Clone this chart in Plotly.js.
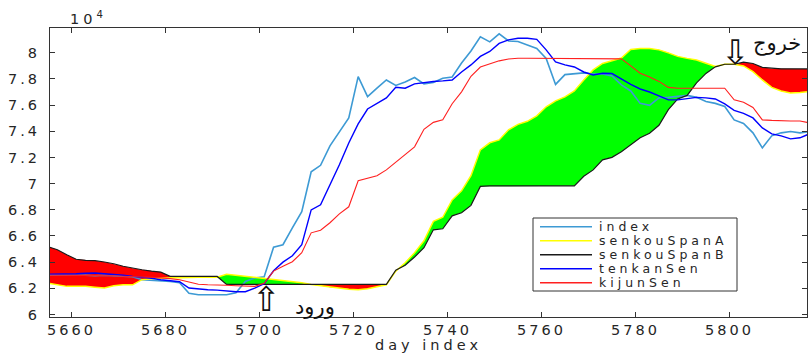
<!DOCTYPE html>
<html>
<head>
<meta charset="utf-8">
<script src="https://cdn.plot.ly/plotly-3.0.1.min.js"></script>
<style>
html,body{margin:0;padding:0;background:#fff;overflow:hidden;width:809px;height:353px;}
.xtick text,.ytick text{letter-spacing:3px;}
.g-xtitle text{letter-spacing:4px;}
.annotation-text{letter-spacing:4px;}
g.annotation[data-index="6"] text, g.annotation[data-index="8"] text{letter-spacing:0px;}
g.annotation[data-index="7"] text, g.annotation[data-index="9"] text{letter-spacing:6px;}
</style>
</head>
<body>
<div id="chart" style="width:809px;height:353px;"></div>
<script>
// ---------------- data ----------------
const days = [5655,5657,5659,5661,5663,5665,5667,5669,5671,5673,
  5675,5677,5679,5681,5683,5685,5687,5689,5691,5693,
  5695,5697,5699,5701,5703,5705,5707,5709,5711,5713,
  5715,5717,5719,5721,5723,5725,5727,5729,5731,5733,
  5735,5737,5739,5741,5743,5745,5747,5749,5751,5753,
  5755,5757,5759,5761,5763,5765,5767,5769,5771,5773,
  5775,5777,5779,5781,5783,5785,5787,5789,5791,5793,
  5795,5797,5799,5801,5803,5805,5807,5809,5811,5813,
  5815,5817];

const indexSeries = [63000,63000,63040,63040,63000,62960,63000,62960,62920,62890,
  62660,62620,62580,62530,62430,61630,61510,61510,61510,61510,
  61660,62530,62790,62880,65140,65330,66620,67850,70900,71400,
  72890,73920,75020,78180,76650,77290,77920,77500,77770,78110,
  77620,77730,78050,78150,79210,80140,81210,80830,81440,80900,
  80860,80600,80330,79570,77580,78330,78410,78460,78380,78380,
  78230,77540,77080,76130,75980,76550,76590,76660,76740,76590,
  76270,76130,75890,74870,74600,73880,72730,73650,73880,73980,
  73880,73980];

const senkouSpanA = [62400,62270,62150,62150,62150,62080,62020,62200,62270,62270,
  62660,62730,62790,62810,62810,62850,62850,62850,62850,63080,
  63000,62900,62830,62750,62680,62600,62530,62430,62290,62200,
  62080,62010,61930,61890,61970,62120,62270,63310,63950,64720,
  65630,67120,67430,68760,69450,70600,72580,73120,73340,74110,
  74530,74760,75180,75870,76320,76630,77080,77920,78690,79180,
  79410,79600,80250,80330,80330,80220,79990,79720,79570,79450,
  79200,78950,79120,79120,78990,78560,77920,77350,77080,76930,
  76970,77030];

const senkouSpanB = [65180,64950,64560,64220,64140,64110,64010,63880,63690,63530,
  63420,63310,63240,62910,62910,62910,62910,62910,62910,62300,
  62300,62300,62300,62300,62300,62300,62300,62300,62300,62300,
  62300,62300,62300,62300,62300,62300,62300,63380,63760,64390,
  65100,66470,66550,67540,67770,68340,69790,69830,69830,69830,
  69830,69830,69830,69830,69830,69830,69830,70560,71050,71820,
  72010,72430,73000,73500,73850,74460,75650,76470,76740,77700,
  78420,78920,79120,79120,79280,79180,78880,78800,78760,78760,
  78760,78760];

const tenkanSen = [63080,63080,63090,63110,63150,63170,63110,63080,63000,62910,
  62850,62770,62660,62580,62500,62020,61930,61890,61860,61780,
  61740,61740,62010,62350,63340,64000,64490,65330,67990,68380,
  69910,71440,73110,74560,75700,76100,76550,77360,77290,77620,
  77730,77800,77850,77920,78530,79070,79720,80100,80710,80980,
  81110,81110,81020,80220,79300,79070,78910,78530,78300,78430,
  78410,77990,77580,77230,77000,76700,76400,76400,76470,76590,
  76550,76470,76090,75600,75370,75020,74260,73800,73650,73420,
  73500,73800];

const kijunSen = [63000,63000,63000,63000,63000,63000,63000,62960,62920,62870,
  62870,62850,62810,62740,62660,62460,62310,62270,62270,62240,
  62200,62150,62150,62390,63320,63690,64030,64720,66240,66440,
  67010,67690,68230,70220,70410,70600,71050,71660,72230,72810,
  74150,74680,74870,76100,77010,78200,78910,79160,79380,79520,
  79580,79580,79580,79580,79580,79580,79580,79580,79580,79580,
  79580,79530,79000,78430,78140,77810,77350,77290,77290,77290,
  77290,77290,77290,76400,76210,75820,74870,74830,74790,74790,
  74790,74640];

const seriesNames = ['index','senkouSpanA','senkouSpanB','tenkanSen','kijunSen'];
const seriesColors = ['#3d9ad4','#ffff00','#1a1a1a','#0000ff','#ff2020'];
const seriesWidths = [1.6,1.5,1.2,1.4,1.1];

const xTickVals = [5660,5680,5700,5720,5740,5760,5780,5800];
const yTickVals = [60000,62000,64000,66000,68000,70000,72000,74000,76000,78000,80000];
const yTickText = ['6','6.2','6.4','6.6','6.8','7','7.2','7.4','7.6','7.8','8'];

const entryLabel = 'ورود', exitLabel = 'خروج';
const entryDay = 5701.6, entryArrowY = 61200, entryTextDay = 5711.8, entryTextY = 60600;
const exitDay = 5801.2, exitArrowY = 80050;

// ---------------- layout helpers ----------------
const W = 809, H = 353, M = {l:50, r:2, t:28, b:36};
const PW = W - M.l - M.r, PH = H - M.t - M.b;
const px2x = p => (p - M.l) / PW;
const px2y = p => (H - M.b - p) / PH;

// cloud polygons (green where A >= B, red where A < B)
function cloudPolys(xs, a, b) {
  const out = [];
  let cur = null, sign = 0;
  for (let i = 0; i < xs.length; i++) {
    const s = a[i] >= b[i] ? 1 : -1;
    if (cur === null) { cur = {x:[xs[i]], a:[a[i]], b:[b[i]]}; sign = s; continue; }
    if (s !== sign) {
      const d0 = a[i-1] - b[i-1], d1 = a[i] - b[i];
      const t = d0 / (d0 - d1);
      const xc = xs[i-1] + t * (xs[i] - xs[i-1]);
      const yc = a[i-1] + t * (a[i] - a[i-1]);
      cur.x.push(xc); cur.a.push(yc); cur.b.push(yc);
      out.push({sign, poly: cur});
      cur = {x:[xc], a:[yc], b:[yc]}; sign = s;
    }
    cur.x.push(xs[i]); cur.a.push(a[i]); cur.b.push(b[i]);
  }
  if (cur) out.push({sign, poly: cur});
  return out;
}

const traces = [];
cloudPolys(days, senkouSpanA, senkouSpanB).forEach(p => {
  const xs = p.poly.x.concat(p.poly.x.slice().reverse());
  const ys = p.poly.a.concat(p.poly.b.slice().reverse());
  traces.push({x: xs, y: ys, type:'scatter', mode:'lines', fill:'toself',
    fillcolor: p.sign > 0 ? '#00ff00' : '#ff0000', line:{width:0},
    hoverinfo:'skip', showlegend:false});
});

const seriesData = [indexSeries, senkouSpanA, senkouSpanB, tenkanSen, kijunSen];
seriesData.forEach((ys, i) => {
  traces.push({x: days, y: ys, type:'scatter', mode:'lines', name: seriesNames[i],
    line:{color: seriesColors[i], width: seriesWidths[i]}, showlegend:false});
});

// custom legend (drawn to match the compact original box)
const legBox = {x0:533, y0:218, x1:737, y1:291};
const legRow0 = 226.7, legRowStep = 14, legSample = [540, 592], legTextX = 598;
const shapes = [{type:'rect', xref:'paper', yref:'paper',
  x0: px2x(legBox.x0), x1: px2x(legBox.x1), y0: px2y(legBox.y1), y1: px2y(legBox.y0),
  fillcolor:'#ffffff', line:{color:'#333333', width:1}, layer:'above'}];
const annotations = [];
seriesNames.forEach((n, i) => {
  const ry = legRow0 + i * legRowStep;
  shapes.push({type:'line', xref:'paper', yref:'paper', x0: px2x(legSample[0]), x1: px2x(legSample[1]),
    y0: px2y(ry), y1: px2y(ry), line:{color: seriesColors[i], width: 1.4}, layer:'above'});
  annotations.push({xref:'paper', yref:'paper', x: px2x(legTextX), y: px2y(ry), xanchor:'left', yanchor:'middle',
    text: n, showarrow:false, font:{family:'DejaVu Sans', size:12.5, color:'#262626'}, borderpad:0});
});
// exponent label
annotations.push({xref:'paper', yref:'paper', x: px2x(69), y: 1, xanchor:'left', yanchor:'bottom',
  text:'10<sup>4</sup>', showarrow:false, font:{family:'DejaVu Sans', size:14.5, color:'#262626'}, borderpad:0});
// entry arrow + label
annotations.push({xref:'x', yref:'y', x: entryDay, y: entryArrowY, text:'\u21E7', showarrow:false,
  font:{family:'DejaVu Sans', size:34, color:'#111111'}, borderpad:0});
annotations.push({xref:'x', yref:'y', x: entryTextDay, y: entryTextY, text: entryLabel, showarrow:false,
  font:{family:'DejaVu Sans', size:21, color:'#111111'}, borderpad:0});
// exit arrow + label
annotations.push({xref:'x', yref:'y', x: exitDay, y: exitArrowY, text:'\u21E9', showarrow:false,
  font:{family:'DejaVu Sans', size:34, color:'#111111'}, borderpad:0});
annotations.push({xref:'paper', yref:'paper', x: px2x(752), y: px2y(43), xanchor:'left', yanchor:'middle',
  text: exitLabel, showarrow:false, font:{family:'DejaVu Sans', size:21, color:'#111111'}, borderpad:0});

const axisCommon = {showline:true, linecolor:'#333333', linewidth:1, mirror:'ticks', ticks:'inside',
  ticklen:5, tickcolor:'#333333', showgrid:false, zeroline:false,
  tickfont:{family:'DejaVu Sans', size:14.5, color:'#262626'}};

const layout = {
  width: W, height: H, margin: M, paper_bgcolor:'#ffffff', plot_bgcolor:'#ffffff',
  showlegend:false,
  xaxis: Object.assign({}, axisCommon, {range:[5655.43, 5816.5], tickmode:'array', tickvals: xTickVals,
    ticktext: xTickVals.map(String), ticklabelstandoff: 0,
    title:{text:'day index', font:{family:'DejaVu Sans', size:14.5, color:'#262626'}, standoff: 9}}),
  yaxis: Object.assign({}, axisCommon, {range:[59810, 81890], tickmode:'array', tickvals: yTickVals,
    ticktext: yTickText, ticklabelstandoff: 6}),
  shapes, annotations
};

Plotly.newPlot('chart', traces, layout, {displayModeBar:false, staticPlot:true});
</script>
</body>
</html>
